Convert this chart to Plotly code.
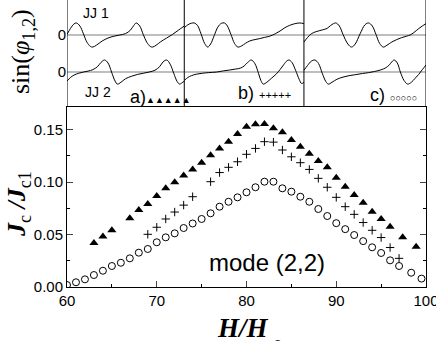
import plotly.graph_objects as go

# ---- lower panel: critical current vs field ----
h_tri = [63, 64, 65, 67, 68, 69, 70, 71, 72, 73, 74, 75, 76, 77, 78, 79, 80, 81, 82,
         83, 84, 85, 86, 87, 88, 89, 90, 91, 92, 93, 94, 95, 96, 97.4, 98.9]
j_tri = [0.042, 0.048, 0.054, 0.0654, 0.0733, 0.079, 0.0867, 0.094, 0.0997, 0.1063,
         0.112, 0.1184, 0.1254, 0.132, 0.1384, 0.1457, 0.1527, 0.155, 0.1552, 0.1511,
         0.1473, 0.14, 0.1336, 0.127, 0.12, 0.114, 0.1041, 0.0955, 0.0876, 0.0803,
         0.0717, 0.0648, 0.0574, 0.0473, 0.0384]

h_plus = [69, 70, 71, 72, 73, 74, 76, 77, 78, 79, 80, 81, 82, 83, 84, 85, 86, 87, 88,
          89, 90, 91, 92, 93, 94, 95, 96, 97]
j_plus = [0.0502, 0.0569, 0.0648, 0.0714, 0.078, 0.086, 0.1003, 0.109, 0.114, 0.1193,
          0.1264, 0.132, 0.1384, 0.138, 0.1305, 0.124, 0.1184, 0.112, 0.1035, 0.095,
          0.0854, 0.0765, 0.0692, 0.0614, 0.054, 0.0471, 0.0376, 0.0273]

h_circ = [60, 61, 62, 63, 64, 65, 66, 67, 68, 69, 70, 71, 72, 73, 74, 75, 76, 77, 78,
          79, 80, 81, 82, 83, 84, 85, 86, 87, 88, 89, 90, 91, 92, 93, 94, 95, 96, 97,
          98.35, 99.5]
j_circ = [0.0019, 0.0045, 0.0073, 0.0114, 0.0155, 0.02, 0.0231, 0.0273, 0.0327, 0.0362,
          0.0426, 0.0473, 0.0511, 0.0562, 0.0605, 0.0648, 0.0702, 0.0765, 0.0812, 0.0854,
          0.0902, 0.095, 0.1003, 0.1003, 0.094, 0.0908, 0.086, 0.0812, 0.0743, 0.0676,
          0.0608, 0.0551, 0.0495, 0.0437, 0.0378, 0.0324, 0.0254, 0.02, 0.0136, 0.008]

x_ticks = [60, 70, 80, 90, 100]
y_ticks = [0.0, 0.05, 0.10, 0.15]
y_ticktext = ["0.00", "0.05", "0.10", "0.15"]

# ---- upper panel: sin(phi) snapshots, t = fraction across each sub-panel ----
t_a1 = [0, 0.03, 0.06, 0.08, 0.11, 0.14, 0.17, 0.2, 0.22, 0.25, 0.3, 0.35, 0.4, 0.45,
        0.5, 0.54, 0.57, 0.59, 0.62, 0.65, 0.68, 0.71, 0.73, 0.76, 0.8, 0.85, 0.9, 0.95, 1.0]
s_a1 = [0.05, 0.55, 0.92, 1.0, 0.75, 0.1, -0.6, -0.95, -1.0, -0.85, -0.5, -0.25, -0.1,
        0.0, 0.12, 0.4, 0.8, 1.0, 0.75, 0.05, -0.6, -0.95, -1.0, -0.85, -0.55, -0.25,
        0.05, 0.4, 0.75]
t_a2 = [0, 0.03, 0.06, 0.1, 0.14, 0.18, 0.22, 0.26, 0.29, 0.32, 0.35, 0.38, 0.41, 0.43,
        0.46, 0.5, 0.55, 0.6, 0.65, 0.7, 0.75, 0.79, 0.82, 0.85, 0.88, 0.91, 0.94, 0.96,
        0.98, 1.0]
s_a2 = [-0.75, -0.45, -0.25, -0.1, 0.0, 0.08, 0.2, 0.45, 0.8, 1.0, 0.75, 0.0, -0.75,
        -1.0, -0.85, -0.55, -0.35, -0.2, -0.1, 0.0, 0.15, 0.45, 0.85, 1.0, 0.65, -0.1,
        -0.8, -1.0, -0.9, -0.75]

t_b1 = [0, 0.03, 0.06, 0.084, 0.11, 0.14, 0.17, 0.196, 0.22, 0.25, 0.28, 0.31, 0.336,
        0.36, 0.39, 0.42, 0.448, 0.48, 0.51, 0.546, 0.59, 0.63, 0.67, 0.714, 0.76, 0.8,
        0.84, 0.88, 0.92, 0.966, 1.0]
s_b1 = [0.6, 0.85, 0.98, 1.0, 0.8, 0.1, -0.7, -1.0, -0.75, -0.05, 0.65, 0.97, 1.0, 0.75,
        0.05, -0.7, -1.0, -0.9, -0.7, -0.5, -0.38, -0.3, -0.2, -0.1, 0.1, 0.33, 0.6, 0.8,
        0.93, 1.0, 0.94]
t_b2 = [0, 0.03, 0.06, 0.1, 0.15, 0.2, 0.27, 0.33, 0.38, 0.43, 0.47, 0.5, 0.53, 0.56,
        0.59, 0.62, 0.64, 0.66, 0.69, 0.73, 0.77, 0.8, 0.83, 0.86, 0.876, 0.9, 0.93, 0.96,
        0.98, 1.0]
s_b2 = [-0.7, -0.45, -0.3, -0.18, -0.1, -0.05, 0.0, 0.1, 0.17, 0.25, 0.33, 0.5, 0.8, 1.0,
        0.7, -0.1, -0.7, -1.0, -0.85, -0.5, -0.15, 0.2, 0.6, 0.95, 1.0, 0.8, 0.15, -0.6,
        -0.95, -0.85]

t_c1 = [0, 0.03, 0.06, 0.1, 0.15, 0.19, 0.22, 0.26, 0.29, 0.32, 0.36, 0.39, 0.42, 0.46,
        0.5, 0.53, 0.56, 0.59, 0.62, 0.65, 0.68, 0.72, 0.76, 0.8, 0.84, 0.87, 0.9, 0.94,
        0.97, 1.0]
s_c1 = [-0.58, -0.2, 0.1, 0.28, 0.42, 0.55, 0.8, 1.0, 0.75, 0.05, -0.75, -1.0, -0.75,
        0.1, 0.85, 1.0, 0.75, 0.05, -0.7, -1.0, -0.85, -0.58, -0.38, -0.22, -0.1, 0.0,
        0.2, 0.53, 0.75, 0.94]
t_c2 = [0, 0.03, 0.06, 0.09, 0.12, 0.15, 0.18, 0.2, 0.23, 0.27, 0.32, 0.37, 0.42, 0.48,
        0.53, 0.58, 0.63, 0.67, 0.7, 0.72, 0.74, 0.765, 0.79, 0.82, 0.85, 0.88, 0.91,
        0.94, 0.97, 1.0]
s_c2 = [0.15, 0.55, 0.9, 1.0, 0.7, -0.1, -0.8, -1.0, -0.85, -0.6, -0.42, -0.3, -0.22,
        -0.12, -0.05, 0.05, 0.18, 0.35, 0.6, 0.85, 1.0, 0.75, 0.0, -0.7, -1.0, -0.85,
        -0.53, -0.2, 0.2, 0.58]

panel_edges = [0, 0.98, 1.98, 3.0]
jj_offset = {1: 1.0, 2: -1.0}
amp = 0.65

SERIF = "Liberation Serif"
SANS = "Liberation Sans"

# plot area in pixels (for placing labels)
PL, PR, PB = 67, 426.5, 287
PW = PR - PL


def px(x):
    return (x - PL) / PW


def py(y):
    return (PB - y) / PB


fig = go.Figure()

# lower panel markers
fig.add_trace(go.Scatter(x=h_tri, y=j_tri, mode="markers",
                         marker=dict(symbol="triangle-up", size=8, color="black")))
fig.add_trace(go.Scatter(x=h_plus, y=j_plus, mode="markers",
                         marker=dict(symbol="cross-thin", size=6,
                                     line=dict(color="black", width=1))))
fig.add_trace(go.Scatter(x=h_circ, y=j_circ, mode="markers",
                         marker=dict(symbol="circle-open", size=7, color="black",
                                     line=dict(width=1))))

# upper panel curves
curves = [(0, t_a1, s_a1, 1), (0, t_a2, s_a2, 2),
          (1, t_b1, s_b1, 1), (1, t_b2, s_b2, 2),
          (2, t_c1, s_c1, 1), (2, t_c2, s_c2, 2)]
for k, t, s, jj in curves:
    x0, x1 = panel_edges[k], panel_edges[k + 1]
    fig.add_trace(go.Scatter(
        x=[x0 + v * (x1 - x0) for v in t],
        y=[jj_offset[jj] + amp * v for v in s],
        mode="lines", line=dict(color="black", width=1, shape="spline", smoothing=1.0),
        xaxis="x2", yaxis="y2",
    ))

shapes = []
# grey zero lines
for jj in (1, 2):
    shapes.append(dict(type="line", xref="x2 domain", yref="y2",
                       x0=0, x1=1, y0=jj_offset[jj], y1=jj_offset[jj],
                       line=dict(color="#a8a8a8", width=1.5), layer="below"))
# upper frame: left, right and dividers
for xe in panel_edges:
    shapes.append(dict(type="line", xref="x2", yref="y2 domain",
                       x0=xe, x1=xe, y0=0, y1=1.02,
                       line=dict(color="black", width=1)))


def label(text, x, y, size, family=SANS, xanchor="center", angle=0):
    return dict(text=text, x=px(x), y=py(y), xref="paper", yref="paper",
                xanchor=xanchor, yanchor="middle", textangle=angle, showarrow=False,
                font=dict(family=family, size=size, color="black"))


annotations = [
    label("JJ 1", 96, 13, 14),
    label("JJ 2", 98, 92, 14),
    label("a)<span style='font-size:9px'>▲▲▲▲▲</span>", 128, 97, 18, xanchor="left"),
    label("b) <span style='font-size:11px'>+++++</span>", 236, 93, 18, xanchor="left"),
    label("c) <span style='font-size:9px'>○○○○○</span>", 368, 95, 18, xanchor="left"),
    label("mode (2,2)", 267, 262, 24),
    label("sin(<i>φ</i><sub>1,2</sub>)", 22, 52, 26, family=SERIF, angle=-90),
    label("<b><i>J</i></b><sub>c</sub><b><i> /J</i></b><sub>c1</sub>", 18, 204, 26,
          family=SERIF, angle=-90),
    label("<b><i>H/H</i></b>", 243, 328, 27, family=SERIF),
    label("0", 278, 346, 19, family=SERIF),
]

fig.update_layout(
    width=436, height=341,
    margin=dict(l=67, r=9.5, t=0, b=54, autoexpand=False),
    paper_bgcolor="white", plot_bgcolor="rgba(0,0,0,0)",
    showlegend=False,
    shapes=shapes, annotations=annotations,
    xaxis=dict(range=[60, 100], domain=[0, 1], anchor="y", automargin=False,
               tickvals=x_ticks, ticks="inside", ticklen=6, tickwidth=1,
               ticklabeloverflow="allow",
               minor=dict(dtick=5, ticks="inside", ticklen=3, tickwidth=1, tickcolor="black"),
               showline=True, linecolor="black", linewidth=1, mirror=True,
               showgrid=False, zeroline=False,
               tickfont=dict(family=SANS, size=15, color="black")),
    yaxis=dict(range=[0, 0.1714], domain=[0, 0.627], anchor="x", automargin=False,
               tickvals=y_ticks, ticktext=y_ticktext, ticks="inside", ticklen=6, tickwidth=1,
               minor=dict(dtick=0.025, ticks="inside", ticklen=3, tickwidth=1, tickcolor="black"),
               showline=True, linecolor="black", linewidth=1, mirror="allticks",
               showgrid=False, zeroline=False,
               tickfont=dict(family=SANS, size=15, color="black")),
    xaxis2=dict(range=[0, 3], domain=[0, 1], anchor="y2", visible=False),
    yaxis2=dict(range=[-2.89, 2.89], domain=[0.627, 1], anchor="x2", automargin=False,
                tickvals=[1, -1], ticktext=["0", "0"], ticks="",
                showline=False, showgrid=False, zeroline=False,
                tickfont=dict(family=SANS, size=15, color="black")),
)

# drop the browser's default page margin so the figure sits at the window's corner
fig.write_html("out.html", config={"displayModeBar": False},
               post_script="document.body.style.margin='0';")
